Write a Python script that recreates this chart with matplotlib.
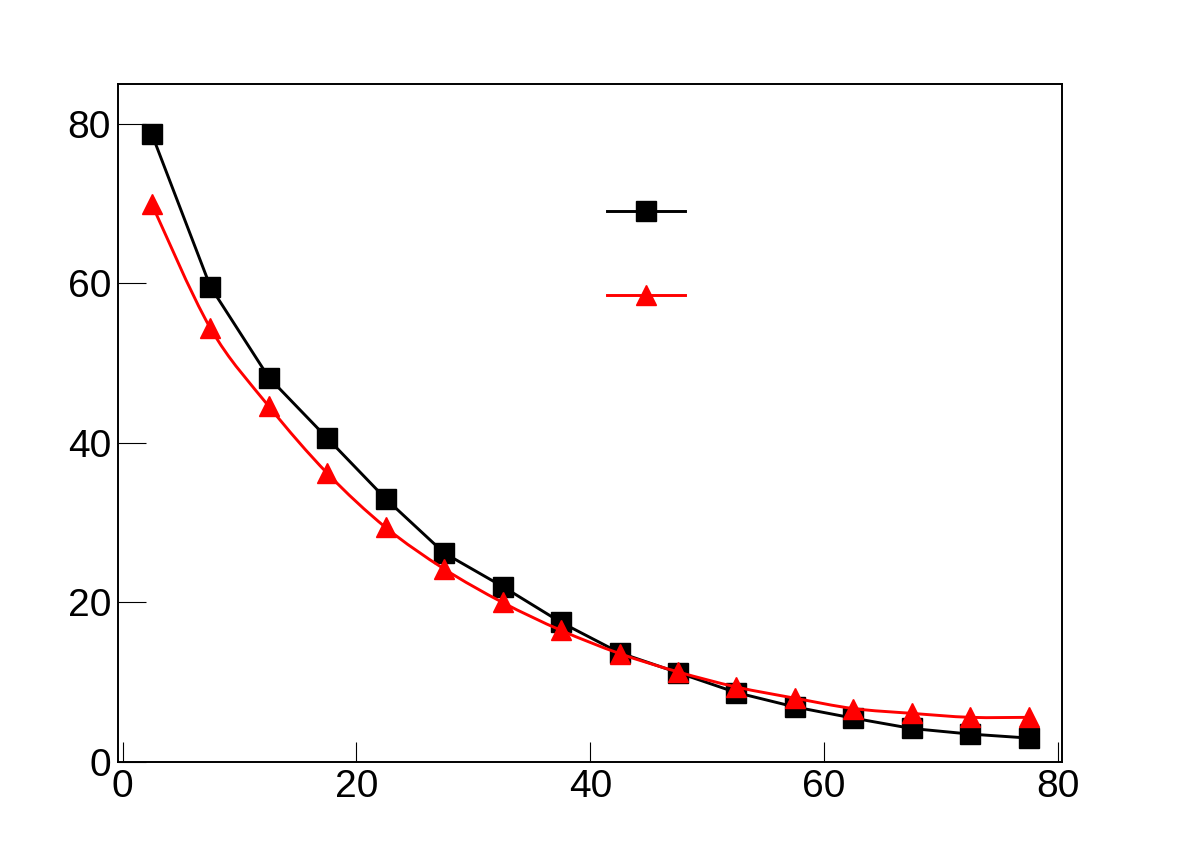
import numpy as np
import matplotlib
matplotlib.use('Agg')
import matplotlib.pyplot as plt
from matplotlib.path import Path
from matplotlib.patches import PathPatch
from matplotlib.lines import Line2D

## {{{                          --     data     --

x_centers = [2.5, 7.5, 12.5, 17.5, 22.5, 27.5, 32.5, 37.5,
             42.5, 47.5, 52.5, 57.5, 62.5, 67.5, 72.5, 77.5]
black_vals = [78.7, 59.6, 48.2, 40.6, 33.0, 26.2, 22.0, 17.5,
              13.7, 11.2, 8.7, 6.9, 5.5, 4.2, 3.5, 3.0]
red_vals = [69.9, 54.4, 44.6, 36.2, 29.4, 24.2, 20.0, 16.5,
            13.6, 11.3, 9.4, 8.0, 6.7, 6.1, 5.6, 5.6]
x_ticks = [0, 20, 40, 60, 80]
y_ticks = [0, 20, 40, 60, 80]

##────────────────────────────────────────────────────────────────────────────}}}

plt.rcParams['font.family'] = ['Liberation Sans', 'DejaVu Sans']


def smooth_path(xs, ys):
    # catmull-rom style bezier through the points (like ROOT's "C" option)
    pts = np.column_stack([xs, ys]).astype(float)
    ext = np.vstack([pts[0], pts, pts[-1]])
    verts = [pts[0]]
    codes = [Path.MOVETO]
    for i in range(1, len(ext) - 2):
        p0, p1, p2, p3 = ext[i - 1], ext[i], ext[i + 1], ext[i + 2]
        verts += [p1 + (p2 - p0) / 6.0, p2 - (p3 - p1) / 6.0, p2]
        codes += [Path.CURVE4] * 3
    return Path(verts, codes)


fig = plt.figure(figsize=(11.82, 8.48), dpi=100)
ax = fig.add_axes([118 / 1182, 1 - 762 / 848, 944 / 1182, 678 / 848])

ax.plot(x_centers, black_vals, color='black', lw=2.1, marker='s', ms=14,
        mec='black', mfc='black', zorder=3)
ax.add_patch(PathPatch(smooth_path(x_centers, red_vals), fc='none',
                       ec='red', lw=2.1, zorder=3))
ax.plot(x_centers, red_vals, ls='none', marker='^', ms=14,
        mec='red', mfc='red', zorder=4)

ax.set_xlim(-0.40, 80.35)
ax.set_ylim(0, 85)
ax.set_xticks(x_ticks)
ax.set_yticks(y_ticks)
ax.tick_params(axis='x', direction='in', length=14.4, width=0.8,
               labelsize=28, pad=5, top=False)
ax.tick_params(axis='y', direction='in', length=20, width=0.8,
               labelsize=28, pad=5, right=False)
for s in ax.spines.values():
    s.set_linewidth(1.4)

handles = [
    Line2D([], [], color='black', lw=2.1, marker='s', ms=14),
    Line2D([], [], color='red', lw=2.1, marker='^', ms=14),
]
ax.legend(handles, ['', ''], loc='center', bbox_to_anchor=(0.5593, 0.746),
          frameon=False, fontsize=26, handlelength=2.16, handletextpad=0,
          borderpad=0, labelspacing=1.37)

fig.savefig('out.png', dpi=100)
